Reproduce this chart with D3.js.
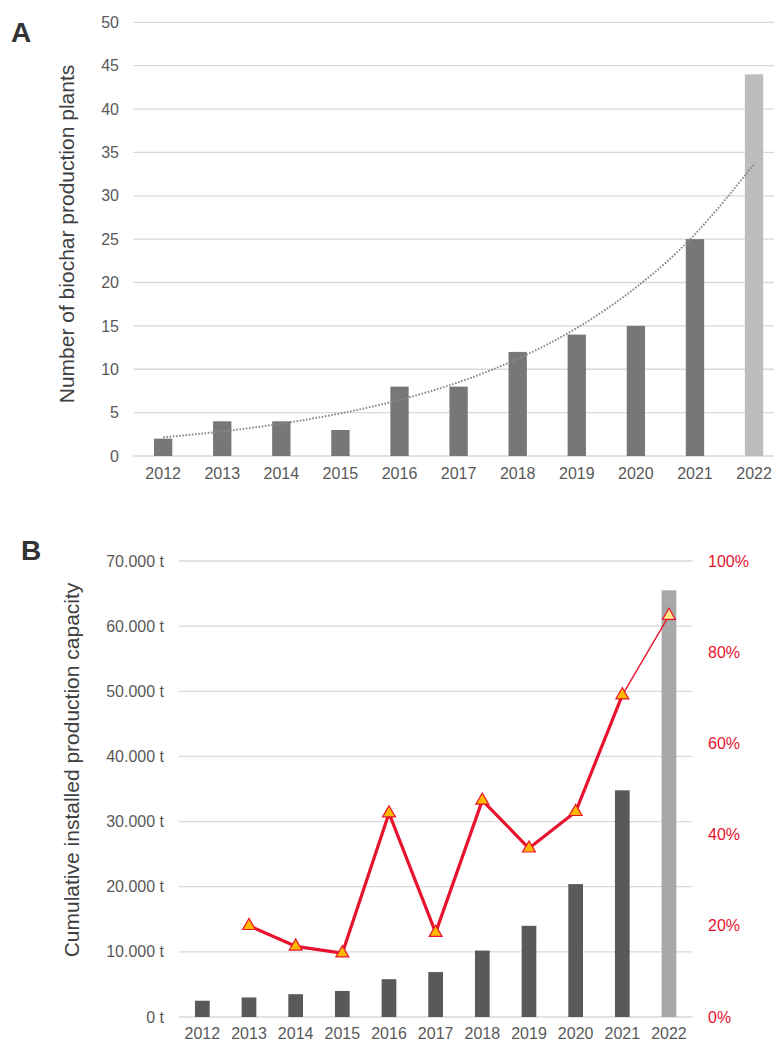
<!DOCTYPE html>
<html>
<head>
<meta charset="utf-8">
<script src="https://cdn.jsdelivr.net/npm/d3@7"></script>
<style>
  body { margin: 0; background: #fff; }
  svg text { font-family: "Liberation Sans", Arial, sans-serif; }
</style>
</head>
<body>
<div id="chart"></div>
<script>
// data
const years = [2012, 2013, 2014, 2015, 2016, 2017, 2018, 2019, 2020, 2021, 2022];
const plants = [2, 4, 4, 3, 8, 8, 12, 14, 15, 25, 44];
const capacity = [2500, 3000, 3500, 4000, 5800, 6900, 10200, 14000, 20400, 34800, 65500];
const growthYears = [2013, 2014, 2015, 2016, 2017, 2018, 2019, 2020, 2021, 2022];
const growth = [20, 15.5, 14, 44.7, 18.5, 47.5, 37, 45, 70.6, 88];
const plantTicks = [0, 5, 10, 15, 20, 25, 30, 35, 40, 45, 50];
const capTicks = [0, 10000, 20000, 30000, 40000, 50000, 60000, 70000];
const pctTicks = [0, 20, 40, 60, 80, 100];

const W = 774, H = 1046;
const gridCol = "#d9d9d9", tickCol = "#595959", red = "#e8132f";
const tickSize = "16px", titleSize = "21px";

const svg = d3.select("#chart").append("svg")
    .attr("width", W)
    .attr("height", H);

/*
 *  Panel A - number of plants
 */
let xA = d3.scaleBand()
    .domain(years)
    .range([133.6, 783.6])
    .paddingInner(0.69)
    .paddingOuter(0.345);
let yA = d3.scaleLinear()
    .domain([0, 50])
    .range([456, 22.3]);

let gA = svg.append("g");

gA.selectAll(".gridA")
    .data(plantTicks)
    .enter().append("line")
    .attr("class", "gridA")
    .attr("x1", 133.5)
    .attr("x2", W)
    .attr("y1", d => yA(d))
    .attr("y2", d => yA(d))
    .attr("stroke", gridCol)
    .attr("stroke-width", 1.3);

gA.selectAll(".barA")
    .data(plants)
    .enter().append("rect")
    .attr("class", "barA")
    .attr("x", (d, i) => xA(years[i]))
    .attr("width", xA.bandwidth())
    .attr("y", d => yA(d))
    .attr("height", d => yA(0) - yA(d))
    .attr("fill", (d, i) => years[i] === 2022 ? "#bdbdbd" : "#777777");

// exponential trendline, least squares fit on ln(values)
let n = plants.length;
let xs = d3.range(1, n + 1);
let lnv = plants.map(v => Math.log(v));
let mx = d3.mean(xs), my = d3.mean(lnv);
let b = d3.sum(xs, (x, i) => (x - mx) * (lnv[i] - my)) / d3.sum(xs, x => (x - mx) * (x - mx));
let a = my - b * mx;
let trend = xs.map(x => Math.exp(a + b * x));

gA.append("path")
    .datum(trend)
    .attr("fill", "none")
    .attr("stroke", "#8a8a8a")
    .attr("stroke-width", 2)
    .attr("stroke-dasharray", "1.6 1.6")
    .attr("d", d3.line()
        .x((d, i) => xA(years[i]) + xA.bandwidth() / 2)
        .y(d => yA(d))
        .curve(d3.curveNatural));

let axA = gA.append("g")
    .attr("transform", "translate(119,0)")
    .call(d3.axisLeft(yA).tickValues(plantTicks).tickSize(0).tickPadding(0));
axA.select(".domain").remove();
axA.selectAll("text")
    .attr("fill", tickCol)
    .style("font-size", tickSize);

let axAx = gA.append("g")
    .attr("transform", "translate(0,468)")
    .call(d3.axisBottom(xA).tickSize(0).tickPadding(0));
axAx.select(".domain").remove();
axAx.selectAll("text")
    .attr("fill", tickCol)
    .attr("dy", "0.71em")
    .style("font-size", tickSize);

gA.append("text")
    .attr("transform", "translate(74,234) rotate(-90)")
    .attr("text-anchor", "middle")
    .attr("fill", "#404040")
    .style("font-size", titleSize)
    .text("Number of biochar production plants");

gA.append("text")
    .attr("x", 11)
    .attr("y", 42)
    .attr("fill", "#333")
    .style("font-size", "28px")
    .style("font-weight", "bold")
    .text("A");

/*
 *  Panel B - cumulative capacity and growth rate
 */
let xB = d3.scaleBand()
    .domain(years)
    .range([179, 692.3])
    .paddingInner(0.685)
    .paddingOuter(0.3425);
let yB = d3.scaleLinear()
    .domain([0, 70000])
    .range([1017, 561]);
let yP = d3.scaleLinear()
    .domain([0, 100])
    .range([1017, 561]);

let gB = svg.append("g");

gB.selectAll(".gridB")
    .data(capTicks)
    .enter().append("line")
    .attr("class", "gridB")
    .attr("x1", 179)
    .attr("x2", 692.3)
    .attr("y1", d => yB(d))
    .attr("y2", d => yB(d))
    .attr("stroke", gridCol)
    .attr("stroke-width", 1.3);

gB.selectAll(".barB")
    .data(capacity)
    .enter().append("rect")
    .attr("class", "barB")
    .attr("x", (d, i) => xB(years[i]))
    .attr("width", xB.bandwidth())
    .attr("y", d => yB(d))
    .attr("height", d => yB(0) - yB(d))
    .attr("fill", (d, i) => years[i] === 2022 ? "#a8a8a8" : "#595959");

let pts = growthYears.map((y, i) => [xB(y) + xB.bandwidth() / 2, yP(growth[i])]);
let lineB = d3.line();

// thick part up to 2021, thin segment to 2022
gB.append("path")
    .attr("d", lineB(pts.slice(0, pts.length - 1)))
    .attr("fill", "none")
    .attr("stroke", red)
    .attr("stroke-width", 3.2)
    .attr("stroke-linejoin", "round");
gB.append("path")
    .attr("d", lineB(pts.slice(pts.length - 2)))
    .attr("fill", "none")
    .attr("stroke", red)
    .attr("stroke-width", 1.4);

gB.selectAll(".tri")
    .data(growth)
    .enter().append("path")
    .attr("class", "tri")
    .attr("transform", (d, i) => `translate(${xB(growthYears[i]) + xB.bandwidth() / 2},${yP(d)})`)
    .attr("d", d3.symbol().type(d3.symbolTriangle).size(72))
    .attr("fill", (d, i) => growthYears[i] === 2022 ? "#ffe98a" : "#ffb800")
    .attr("stroke", red)
    .attr("stroke-width", 1.2);

let fmtT = d => d3.format(",")(d).replace(/,/g, ".") + " t";
let axB = gB.append("g")
    .attr("transform", "translate(164,0)")
    .call(d3.axisLeft(yB).tickValues(capTicks).tickFormat(fmtT).tickSize(0).tickPadding(0));
axB.select(".domain").remove();
axB.selectAll("text")
    .attr("fill", tickCol)
    .style("font-size", tickSize);

let axP = gB.append("g")
    .attr("transform", "translate(708,0)")
    .call(d3.axisRight(yP).tickValues(pctTicks).tickFormat(d => d + "%").tickSize(0).tickPadding(0));
axP.select(".domain").remove();
axP.selectAll("text")
    .attr("fill", red)
    .style("font-size", tickSize);

let axBx = gB.append("g")
    .attr("transform", "translate(0,1028)")
    .call(d3.axisBottom(xB).tickSize(0).tickPadding(0));
axBx.select(".domain").remove();
axBx.selectAll("text")
    .attr("fill", tickCol)
    .attr("dy", "0.71em")
    .style("font-size", tickSize);

gB.append("text")
    .attr("transform", "translate(79,770) rotate(-90)")
    .attr("text-anchor", "middle")
    .attr("fill", "#404040")
    .style("font-size", titleSize)
    .text("Cumulative installed production capacity");

gB.append("text")
    .attr("x", 21)
    .attr("y", 560)
    .attr("fill", "#333")
    .style("font-size", "28px")
    .style("font-weight", "bold")
    .text("B");
</script>
</body>
</html>
